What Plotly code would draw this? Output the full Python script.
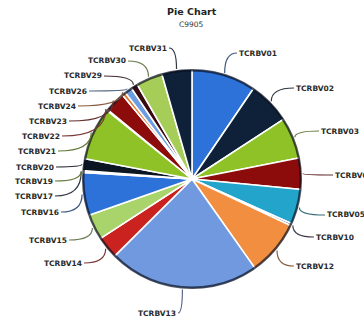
import math
import plotly.graph_objects as go

# ---- data -------------------------------------------------------------
labels = ["TCRBV01", "TCRBV02", "TCRBV03", "TCRBV04", "TCRBV05", "TCRBV10",
          "TCRBV12", "TCRBV13", "TCRBV14", "TCRBV15", "TCRBV16", "TCRBV17",
          "TCRBV19", "TCRBV20", "TCRBV21", "TCRBV22", "TCRBV23", "TCRBV24",
          "TCRBV26", "TCRBV29", "TCRBV30", "TCRBV31"]
values = [9.5, 6.3, 6.1, 4.6, 5.2, 0.3,
          8.2, 22.3, 3.3, 3.8, 6.3, 0.15,
          0.15, 1.75, 7.8, 0.15, 3.05, 0.55,
          1.1, 1.0, 3.9, 4.45]
colors = ["#2d72d9", "#0f2139", "#8fc226", "#8c0b0b", "#22a4cb", "#3b2a55",
          "#f28e40", "#7099e0", "#c9221f", "#a9d46c", "#2d72d9", "#0f2139",
          "#8fc226", "#0b1622", "#8fc226", "#c9221f", "#8c0b0b", "#e47a2e",
          "#6c9de3", "#3a0a12", "#a5cd58", "#0f2139"]

# label text centres (pixels from top-left of the 364x324 canvas)
label_pos = [(258, 53), (315, 88), (340, 131), (354, 175), (346, 215), (335, 237),
             (315, 266), (157, 313), (63, 263), (48, 240), (40, 212), (34, 196),
             (34, 181), (35, 167), (37, 151), (41, 136), (48, 121), (57, 106),
             (68, 91), (83, 76), (107, 61), (148, 48)]

# ---- geometry -----------------------------------------------------------
W, H = 364, 324
CX, CY, R = 192, 179, 110
HALF_TEXT = 19


def px(x):
    return x / W


def py(y):
    return 1 - y / H


domain = dict(x=[px(CX - R), px(CX + R)], y=[py(CY + R), py(CY - R)])


def muted(hexcol, f=0.4):
    r, g, b = (int(hexcol[i:i + 2], 16) for i in (1, 3, 5))
    mix = lambda c: int(c * f + 70 * (1 - f))
    return "rgb(%d,%d,%d)" % (mix(r), mix(g), mix(b))


fig = go.Figure()
fig.add_trace(go.Pie(
    labels=labels, values=values, sort=False, direction="clockwise",
    rotation=0, domain=domain, textinfo="none", showlegend=False,
    marker=dict(colors=colors, line=dict(color="white", width=1.6)),
))
# dark rim along the outer edge
fig.add_trace(go.Pie(
    values=[1], labels=["rim"], hole=0.978, sort=False, domain=domain,
    textinfo="none", showlegend=False, hoverinfo="skip",
    marker=dict(colors=["rgba(10,15,30,0.7)"], line=dict(width=0)),
))

# ---- labels and leader lines ------------------------------------------
total = sum(values)
cum = 0.0
shapes, annotations = [], []
for name, v, col, (tx, ty) in zip(labels, values, colors, label_pos):
    mid = (cum + v / 2) / total * 2 * math.pi
    cum += v
    ex = CX + (R + 1) * math.sin(mid)
    ey = CY - (R + 1) * math.cos(mid)
    if tx < CX:
        sx = tx + HALF_TEXT + 2
    else:
        sx = tx - HALF_TEXT - 2
    sy = ty
    path = "M %f,%f Q %f,%f %f,%f" % (px(sx), py(sy), px(ex), py(sy), px(ex), py(ey))
    shapes.append(dict(type="path", xref="paper", yref="paper", path=path,
                       line=dict(color=muted(col), width=1.2)))
    annotations.append(dict(x=px(tx), y=py(ty), xref="paper", yref="paper",
                            text=name, showarrow=False, xanchor="center",
                            yanchor="middle",
                            font=dict(family="DejaVu Sans", size=7.5,
                                      color="#2a2a2a", weight="bold")))

annotations.append(dict(x=px(191.5), y=py(12), xref="paper", yref="paper",
                        text="Pie Chart", showarrow=False, xanchor="center",
                        yanchor="middle",
                        font=dict(family="DejaVu Sans", size=9.5,
                                  color="#222222", weight="bold")))
annotations.append(dict(x=px(191), y=py(24), xref="paper", yref="paper",
                        text="C9905", showarrow=False, xanchor="center",
                        yanchor="middle",
                        font=dict(family="DejaVu Sans", size=7.5,
                                  color="#333333")))

fig.update_layout(
    width=W, height=H, margin=dict(l=0, r=0, t=0, b=0),
    paper_bgcolor="white", plot_bgcolor="white",
    shapes=shapes, annotations=annotations,
)

fig.write_html("out.html")
